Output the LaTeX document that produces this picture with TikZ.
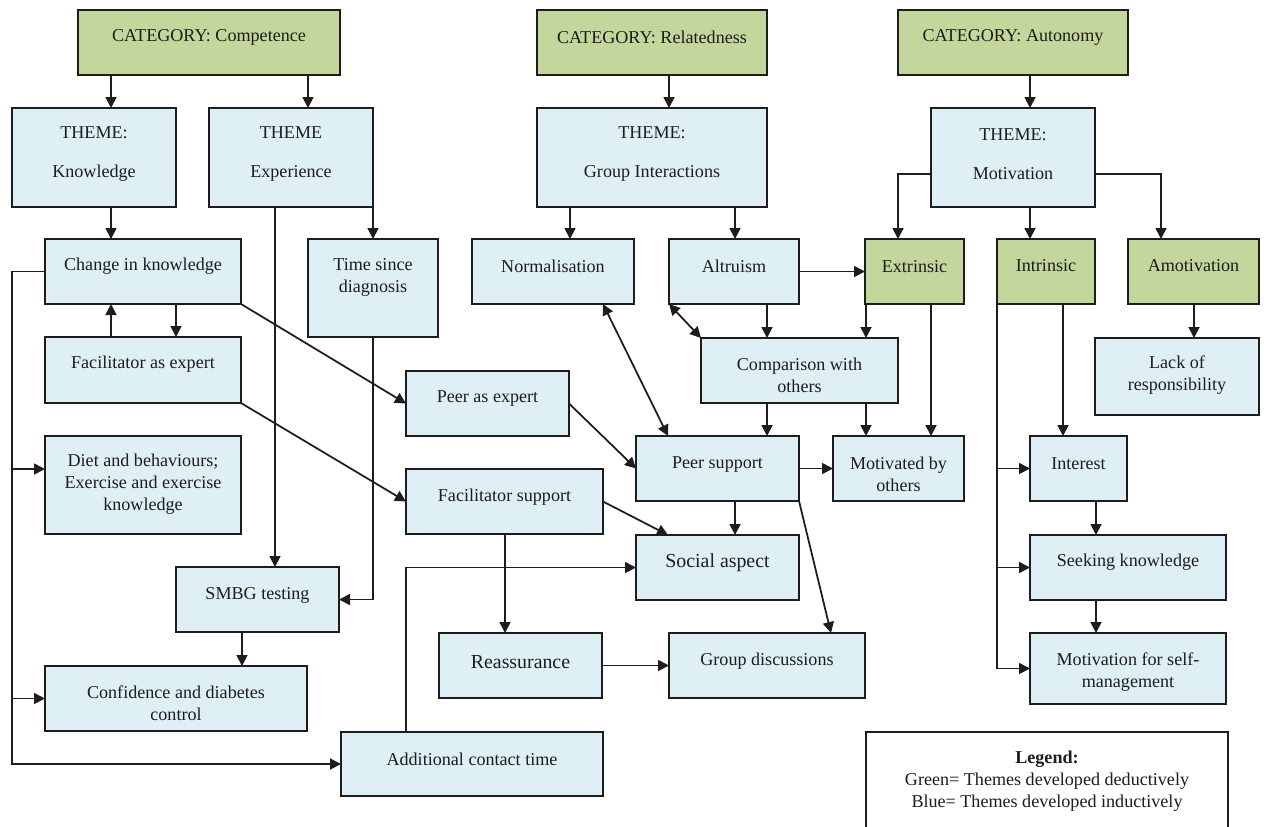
\documentclass[tikz,border=0pt]{standalone}
\usepackage{fontspec}
\setmainfont{Liberation Serif}
\usepackage{xcolor}
\definecolor{GreenBox}{RGB}{195,214,155}
\definecolor{BlueBox}{RGB}{222,240,246}
\definecolor{Ink}{RGB}{30,28,28}
\usetikzlibrary{arrows.meta, calc}
\tikzset{
  qbox/.style={rectangle, draw=Ink, line width=0.8pt, inner sep=0pt, outer sep=0pt},
  qtext/.style={align=center, inner sep=0pt, text=Ink, font=\fontsize{10.3}{12.5}\selectfont},
  link/.style={draw=Ink, line width=1pt},
  arr/.style={link, -{Triangle[length=2.2mm, width=2.2mm]}},
  darr/.style={link, {Triangle[length=2.2mm, width=2.2mm]}-{Triangle[length=2.2mm, width=2.2mm]}},
}
\newcommand{\bigtxt}{\fontsize{11.3}{13.5}\selectfont}
% name, x1, y1, x2, y2 (pixels), fill, text y, text
\newcommand{\QBox}[8]{%
  \node[qbox, fill=#6, minimum width={(#4-#2)*0.02cm}, minimum height={(#5-#3)*0.02cm}] (#1) at ({(#2+#4)/2},{(#3+#5)/2}) {};
  \node[qtext] (#1t) at ({(#2+#4)/2},{#7+2}) {#8};
}

\begin{document}
\begin{tikzpicture}[x=0.02cm, y=-0.02cm]

	\useasboundingbox (0,0) rectangle (1264,826);

	% categories
	\QBox{CatComp}{78}{10}{340}{75}{GreenBox}{35}{CATEGORY: Competence}
	\QBox{CatRel}{537}{10}{767}{75}{GreenBox}{35}{CATEGORY: Relatedness}
	\QBox{CatAut}{898}{10}{1128}{75}{GreenBox}{35}{CATEGORY: Autonomy}

	% themes
	\QBox{ThemeKnow}{12}{108}{176}{207}{BlueBox}{152}{THEME:\\[9.7pt]Knowledge}
	\QBox{ThemeExp}{209}{108}{373}{207}{BlueBox}{152}{THEME\\[9.7pt]Experience}
	\QBox{ThemeGroup}{537}{108}{767}{207}{BlueBox}{152}{THEME:\\[9.7pt]Group Interactions}
	\QBox{ThemeMot}{931}{108}{1095}{207}{BlueBox}{152}{THEME:\\[9.7pt]Motivation}

	% sub-themes
	\QBox{ChangeKnow}{45}{239}{241}{304}{BlueBox}{264}{Change in knowledge}
	\QBox{TimeSince}{308}{239}{438}{337}{BlueBox}{275}{Time since\\diagnosis}
	\QBox{Normalisation}{472}{239}{634}{304}{BlueBox}{264}{Normalisation}
	\QBox{Altruism}{669}{239}{799}{304}{BlueBox}{264}{Altruism}
	\QBox{Extrinsic}{865}{239}{964}{304}{GreenBox}{265}{Extrinsic}
	\QBox{Intrinsic}{997}{239}{1095}{304}{GreenBox}{264}{Intrinsic}
	\QBox{Amotivation}{1128}{239}{1259}{304}{GreenBox}{264}{Amotivation}
	\QBox{FacExpert}{45}{337}{241}{403}{BlueBox}{362}{Facilitator as expert}
	\QBox{Comparison}{701}{338}{898}{403}{BlueBox}{373}{Comparison with\\others}
	\QBox{LackResp}{1095}{338}{1259}{415}{BlueBox}{373}{Lack of\\responsibility}
	\QBox{PeerExpert}{406}{371}{569}{436}{BlueBox}{396}{Peer as expert}
	\QBox{Diet}{45}{436}{241}{534}{BlueBox}{482}{Diet and behaviours;\\Exercise and exercise\\knowledge}
	\QBox{PeerSupport}{636}{436}{799}{501}{BlueBox}{462}{Peer support}
	\QBox{MotivatedBy}{833}{436}{964}{501}{BlueBox}{472}{Motivated by\\others}
	\QBox{Interest}{1030}{436}{1127}{501}{BlueBox}{462}{Interest}
	\QBox{FacSupport}{406}{469}{603}{534}{BlueBox}{495}{Facilitator support}
	\QBox{SocialAspect}{636}{535}{799}{600}{BlueBox}{561}{\bigtxt Social aspect}
	\QBox{Seeking}{1030}{535}{1226}{600}{BlueBox}{560}{Seeking knowledge}
	\QBox{SMBG}{176}{567}{339}{632}{BlueBox}{593}{SMBG testing}
	\QBox{Reassurance}{439}{633}{602}{698}{BlueBox}{660}{\bigtxt Reassurance}
	\QBox{GroupDisc}{669}{633}{865}{698}{BlueBox}{659}{Group discussions}
	\QBox{MotSelf}{1030}{633}{1226}{704}{BlueBox}{670}{Motivation for self-\\management}
	\QBox{Confidence}{45}{666}{307}{731}{BlueBox}{701}{Confidence and diabetes\\control}
	\QBox{Additional}{341}{732}{603}{796}{BlueBox}{757}{Additional contact time}
	\QBox{Legend}{866}{732}{1228}{840}{white}{779}{\textbf{Legend:}\\Green= Themes developed deductively\\Blue= Themes developed inductively}

	% category -> theme
	\draw[arr] (CatComp.south -| 111,0) -- (ThemeKnow.north -| 111,0);
	\draw[arr] (CatComp.south -| 308,0) -- (ThemeExp.north -| 308,0);
	\draw[arr] (CatRel.south -| 669,0) -- (ThemeGroup.north -| 669,0);
	\draw[arr] (CatAut.south -| 1030,0) -- (ThemeMot.north -| 1030,0);

	% competence
	\draw[arr] (ThemeKnow.south -| 111,0) -- (ChangeKnow.north -| 111,0);
	\draw[arr] (ThemeExp.south east) -- (TimeSince.north -| ThemeExp.south east);
	\draw[arr] (ThemeExp.south -| 275,0) -- (SMBG.north -| 275,0);
	\draw[arr] (TimeSince.south -| 373,0) |- (SMBG.east);
	\draw[arr] (ChangeKnow.south -| 176,0) -- (FacExpert.north -| 176,0);
	\draw[arr] (FacExpert.north -| 111,0) -- (ChangeKnow.south -| 111,0);
	\draw[arr] (ChangeKnow.south east) -- (PeerExpert.west);
	\draw[arr] (FacExpert.south east) -- (FacSupport.west);
	\coordinate (busK) at (12,764);
	\draw[arr] (ChangeKnow.west) -| (busK) -- (Additional.west);
	\draw[arr] (busK |- 0,469) -- (Diet.west |- 0,469);
	\draw[arr] (busK |- Confidence.west) -- (Confidence.west);
	\draw[arr] (SMBG.south -| 242,0) -- (Confidence.north -| 242,0);

	% relatedness
	\draw[arr] (ThemeGroup.south -| 570,0) -- (Normalisation.north -| 570,0);
	\draw[arr] (ThemeGroup.south -| 735,0) -- (Altruism.north -| 735,0);
	\draw[arr] (Altruism.east) -- (Extrinsic.west);
	\draw[darr] (Altruism.south west) -- (Comparison.north west);
	\draw[arr] (Altruism.south -| 767,0) -- (Comparison.north -| 767,0);
	\draw[arr] (Extrinsic.south -| 866,0) -- (Comparison.north -| 866,0);
	\draw[darr] (Normalisation.south -| 603,0) -- (PeerSupport.north -| 668,0);
	\draw[arr] (Comparison.south -| 767,0) -- (PeerSupport.north -| 767,0);
	\draw[arr] (Comparison.south -| 866,0) -- (MotivatedBy.north -| 866,0);
	\draw[arr] (Extrinsic.south -| 931,0) -- (MotivatedBy.north -| 931,0);
	\draw[arr] (PeerExpert.east) -- (PeerSupport.west);
	\draw[arr] (PeerSupport.east) -- (MotivatedBy.west);
	\draw[arr] (PeerSupport.south -| 735,0) -- (SocialAspect.north -| 735,0);
	\draw[arr] (PeerSupport.south east) -- (GroupDisc.north -| 831,0);
	\draw[arr] (FacSupport.east) -- (SocialAspect.north -| 668,0);
	\draw[arr] (FacSupport.south -| 505,0) -- (Reassurance.north -| 505,0);
	\draw[arr] (Reassurance.east) -- (GroupDisc.west);
	\draw[arr] (Additional.north -| 406,0) |- (SocialAspect.west);

	% autonomy
	\draw[arr] (ThemeMot.west |- 0,174) -| (Extrinsic.north -| 898,0);
	\draw[arr] (ThemeMot.south -| 1030,0) -- (Intrinsic.north -| 1030,0);
	\draw[arr] (ThemeMot.east |- 0,174) -| (Amotivation.north -| 1161,0);
	\draw[arr] (Amotivation.south -| 1194,0) -- (LackResp.north -| 1194,0);
	\draw[arr] (Intrinsic.south -| 1063,0) -- (Interest.north -| 1063,0);
	\draw[arr] (Intrinsic.south west) |- (MotSelf.west);
	\draw[arr] (Intrinsic.south west |- Interest.west) -- (Interest.west);
	\draw[arr] (Intrinsic.south west |- Seeking.west) -- (Seeking.west);
	\draw[arr] (Interest.south -| 1096,0) -- (Seeking.north -| 1096,0);
	\draw[arr] (Seeking.south -| 1096,0) -- (MotSelf.north -| 1096,0);

\end{tikzpicture}
\end{document}
